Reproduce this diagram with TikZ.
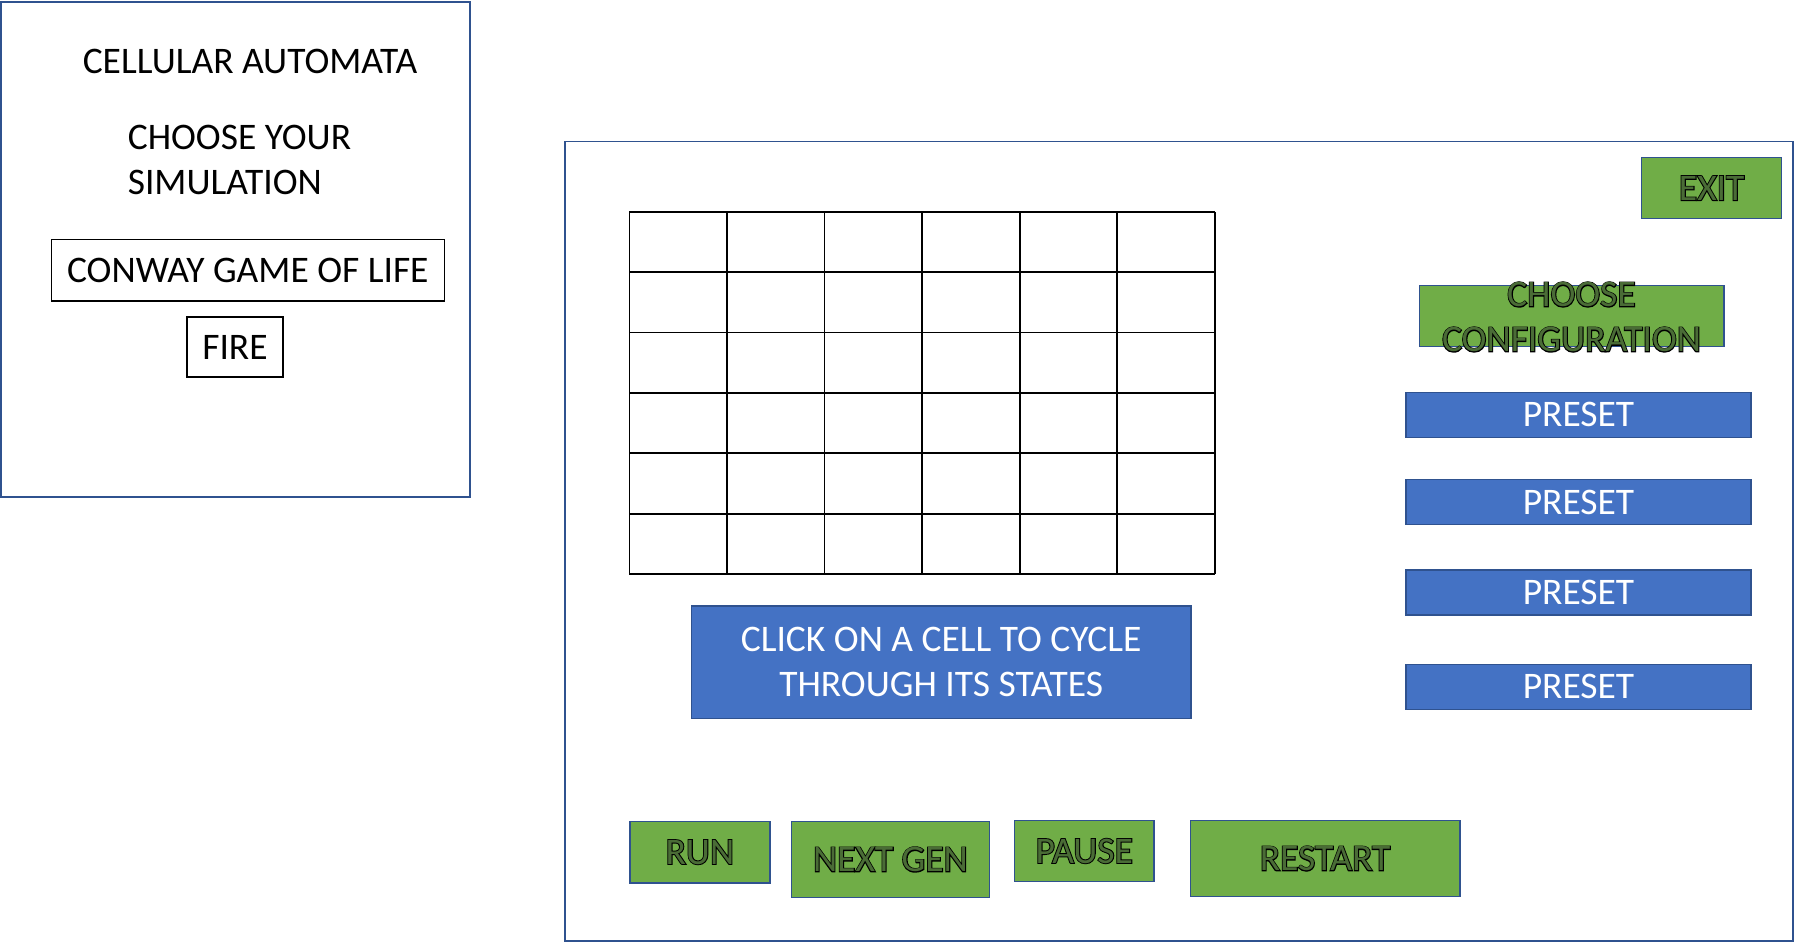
\documentclass[tikz,border=0pt]{standalone}
\usepackage{fontspec}
\setmainfont{Carlito}
\newfontfamily\fbold{Carlito}[FakeBold=5]
\definecolor{obord}{HTML}{2F528F}
\definecolor{oblue}{HTML}{4472C4}
\definecolor{ogreen}{HTML}{70AD47}
\definecolor{oinner}{HTML}{4A6C36}
\newcommand\outl[1]{\makebox[0pt][l]{\fbold\color{black}#1}{\color{oinner}#1}}
\begin{document}
\begin{tikzpicture}[x=1pt,y=-1pt,
  txt/.style={inner sep=0pt, font=\fontsize{37.5}{45}\selectfont},
  panel/.style={draw=obord, line width=1.6pt},
  gridline/.style={draw=black, line width=1.7pt},
  wbox/.style={txt, draw=black, line width=1.6pt},
  bbtn/.style={txt, fill=oblue, draw=obord, line width=1.2pt, text=white, align=center},
  gbtn/.style={txt, fill=ogreen, draw=obord, line width=1.2pt, align=center}]
\useasboundingbox (0,0) rectangle (1794,942);
\fill[white] (0,0) rectangle (1794,942);
% start screen
\draw[panel] (1,2) rectangle (470,497);
\node[txt, anchor=base] (ttl) at (250,74) {CELLULAR AUTOMATA};
\node[txt, anchor=base west] (ch1) at (127.6,149) {CHOOSE YOUR};
\node[txt, anchor=base west] (ch2) at (127.6,194) {SIMULATION};
\node[wbox, minimum width=393pt, minimum height=61.7pt] (conway) at (247.8,270.15) {CONWAY GAME OF LIFE};
\node[wbox, minimum width=96pt, minimum height=60pt] (fire) at (235,347) {FIRE};
% simulation screen
\draw[panel] (565,141.5) rectangle (1792.7,940.7);
\foreach \i in {0,...,6} {
  \draw[gridline] ({629.4+\i*97.57},211.8) -- ({629.4+\i*97.57},574);
  \draw[gridline] (629.4,{211.8+\i*60.37}) -- (1214.8,{211.8+\i*60.37});
}
\node[bbtn, minimum width=499.6pt, minimum height=112.5pt] (click) at (941.2,662.25) {CLICK ON A CELL TO CYCLE\\THROUGH ITS STATES};
\node[gbtn, minimum width=140pt, minimum height=61pt] (exit) at (1711.7,188.2) {\outl{EXIT}};
\node[gbtn, minimum width=304.7pt, minimum height=61.4pt] (cfg) at (1571.65,316) {};
\node[txt, align=center] (cfgtxt) at (1571.5,317) {\outl{CHOOSE}\\\outl{CONFIGURATION}};
\node[bbtn, minimum width=345pt, minimum height=45pt] (p1) at (1578.5,414.8) {PRESET};
\node[bbtn, minimum width=345pt, minimum height=45pt] (p2) at (1578.5,502) {PRESET};
\node[bbtn, minimum width=345pt, minimum height=45pt] (p3) at (1578.5,592.5) {PRESET};
\node[bbtn, minimum width=345pt, minimum height=45pt] (p4) at (1578.5,686.8) {PRESET};
\node[gbtn, minimum width=140pt, minimum height=61.7pt] (run) at (699.9,852.15) {\outl{RUN}};
\node[gbtn, minimum width=197.5pt, minimum height=76.4pt] (next) at (890.45,859.5) {\outl{NEXT GEN}};
\node[gbtn, minimum width=139.5pt, minimum height=61.4pt] (pause) at (1084.25,851) {\outl{PAUSE}};
\node[gbtn, minimum width=269.9pt, minimum height=76.4pt] (restart) at (1325.05,858.5) {\outl{RESTART}};
\end{tikzpicture}
\end{document}
